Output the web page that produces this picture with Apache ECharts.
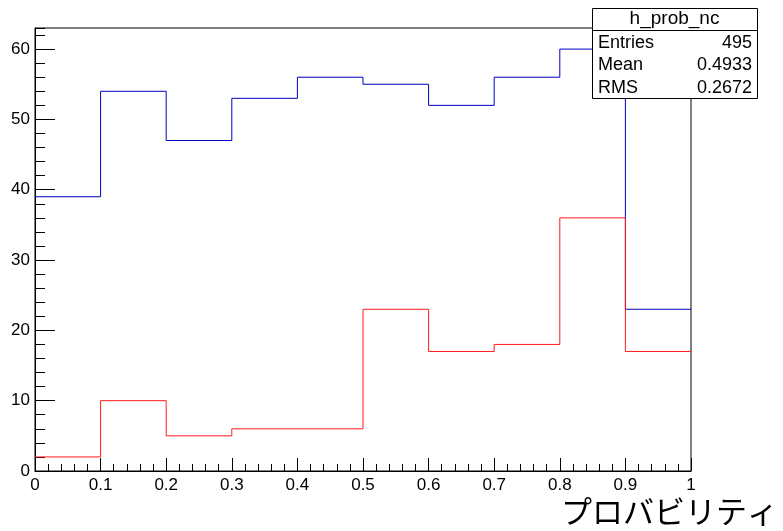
<!DOCTYPE html>
<html>
<head>
<meta charset="utf-8">
<script src="https://cdn.jsdelivr.net/npm/echarts@6/dist/echarts.min.js"></script>
<style>html,body{margin:0;padding:0;background:#fff}#c{width:783px;height:531px}</style>
</head>
<body>
<div id="c"></div>
<script>
var binEdges = [0, 0.1, 0.2, 0.3, 0.4, 0.5, 0.6, 0.7, 0.8, 0.9, 1.0];
var blueCounts = [39, 54, 47, 53, 56, 55, 52, 56, 60, 23];
var redCounts = [2, 10, 5, 6, 6, 23, 17, 18, 36, 17];
var statsTitle = 'h_prob_nc';
var statsLabels = ['Entries', 'Mean', 'RMS'];
var statsValues = ['495', '0.4933', '0.2672'];
var xTitle = 'プロバビリティ';

function stepData(counts) {
  var d = [];
  for (var i = 0; i < counts.length; i++) d.push([binEdges[i], counts[i]]);
  d.push([binEdges[binEdges.length - 1], counts[counts.length - 1]]);
  return d;
}

var font = 'Liberation Sans, Arial, Helvetica, sans-serif';
var chart = echarts.init(document.getElementById('c'), null, {renderer: 'canvas'});
var L = 35, T = 28, R = 92, B = 60;
var boxX = 592, boxY = 8, boxW = 165, boxH = 90;

var graphics = [
  {type: 'rect', z: 100, shape: {x: boxX + 0.5, y: boxY + 0.5, width: boxW, height: boxH},
   style: {fill: '#fff', stroke: '#000', lineWidth: 1}},
  {type: 'line', z: 101, shape: {x1: boxX, y1: boxY + 22.5, x2: boxX + boxW, y2: boxY + 22.5},
   style: {stroke: '#000', lineWidth: 1}},
  {type: 'text', z: 101, style: {text: statsTitle, x: boxX + boxW / 2, y: boxY + 11, align: 'center', verticalAlign: 'middle', font: '19px ' + font, fill: '#000'}},
  {type: 'text', z: 101, style: {text: xTitle, x: 778, y: 527, align: 'right', verticalAlign: 'bottom', font: '31px "Noto Sans CJK JP", sans-serif', fill: '#000'}}
];
for (var i = 0; i < statsLabels.length; i++) {
  var yy = boxY + 35 + i * 22.5;
  graphics.push({type: 'text', z: 101, style: {text: statsLabels[i], x: boxX + 6, y: yy, align: 'left', verticalAlign: 'middle', font: '18px ' + font, fill: '#000'}});
  graphics.push({type: 'text', z: 101, style: {text: statsValues[i], x: boxX + boxW - 5, y: yy, align: 'right', verticalAlign: 'middle', font: '18px ' + font, fill: '#000'}});
}

chart.setOption({
  animation: false,
  backgroundColor: '#fff',
  grid: {left: L, top: T, right: R, bottom: B, show: true, borderColor: '#000', borderWidth: 1, backgroundColor: 'transparent'},
  xAxis: [
    {type: 'value', min: 0, max: 1, interval: 0.1,
     axisLine: {show: true, lineStyle: {color: '#000', width: 1}},
     axisTick: {show: true, inside: true, length: 13, lineStyle: {color: '#000'}},
     axisLabel: {color: '#000', fontSize: 17, fontFamily: font, margin: 6,
       formatter: function (v) { return String(Math.round(v * 10) / 10); }},
     splitLine: {show: false}},
    {type: 'value', min: 0, max: 1, interval: 0.02, position: 'bottom',
     axisLine: {show: false},
     axisTick: {show: true, inside: true, length: 7, lineStyle: {color: '#000'}},
     axisLabel: {show: false}, splitLine: {show: false}}
  ],
  yAxis: [
    {type: 'value', min: 0, max: 63, interval: 10,
     axisLine: {show: true, lineStyle: {color: '#000', width: 1}},
     axisTick: {show: true, inside: true, length: 20, lineStyle: {color: '#000'}},
     axisLabel: {color: '#000', fontSize: 17, fontFamily: font, margin: 5, showMaxLabel: false},
     splitLine: {show: false}},
    {type: 'value', min: 0, max: 63, interval: 2, position: 'left',
     axisLine: {show: false},
     axisTick: {show: true, inside: true, length: 10, lineStyle: {color: '#000'}},
     axisLabel: {show: false}, splitLine: {show: false}}
  ],
  series: [
    {type: 'line', step: 'end', xAxisIndex: 0, yAxisIndex: 0, data: stepData(blueCounts),
     showSymbol: false, symbol: 'none', lineStyle: {color: '#0000c0', width: 1}, z: 3},
    {type: 'line', step: 'end', xAxisIndex: 0, yAxisIndex: 0, data: stepData(redCounts),
     showSymbol: false, symbol: 'none', lineStyle: {color: '#ff1a1a', width: 1}, z: 4}
  ],
  graphic: graphics
});
</script>
</body>
</html>
